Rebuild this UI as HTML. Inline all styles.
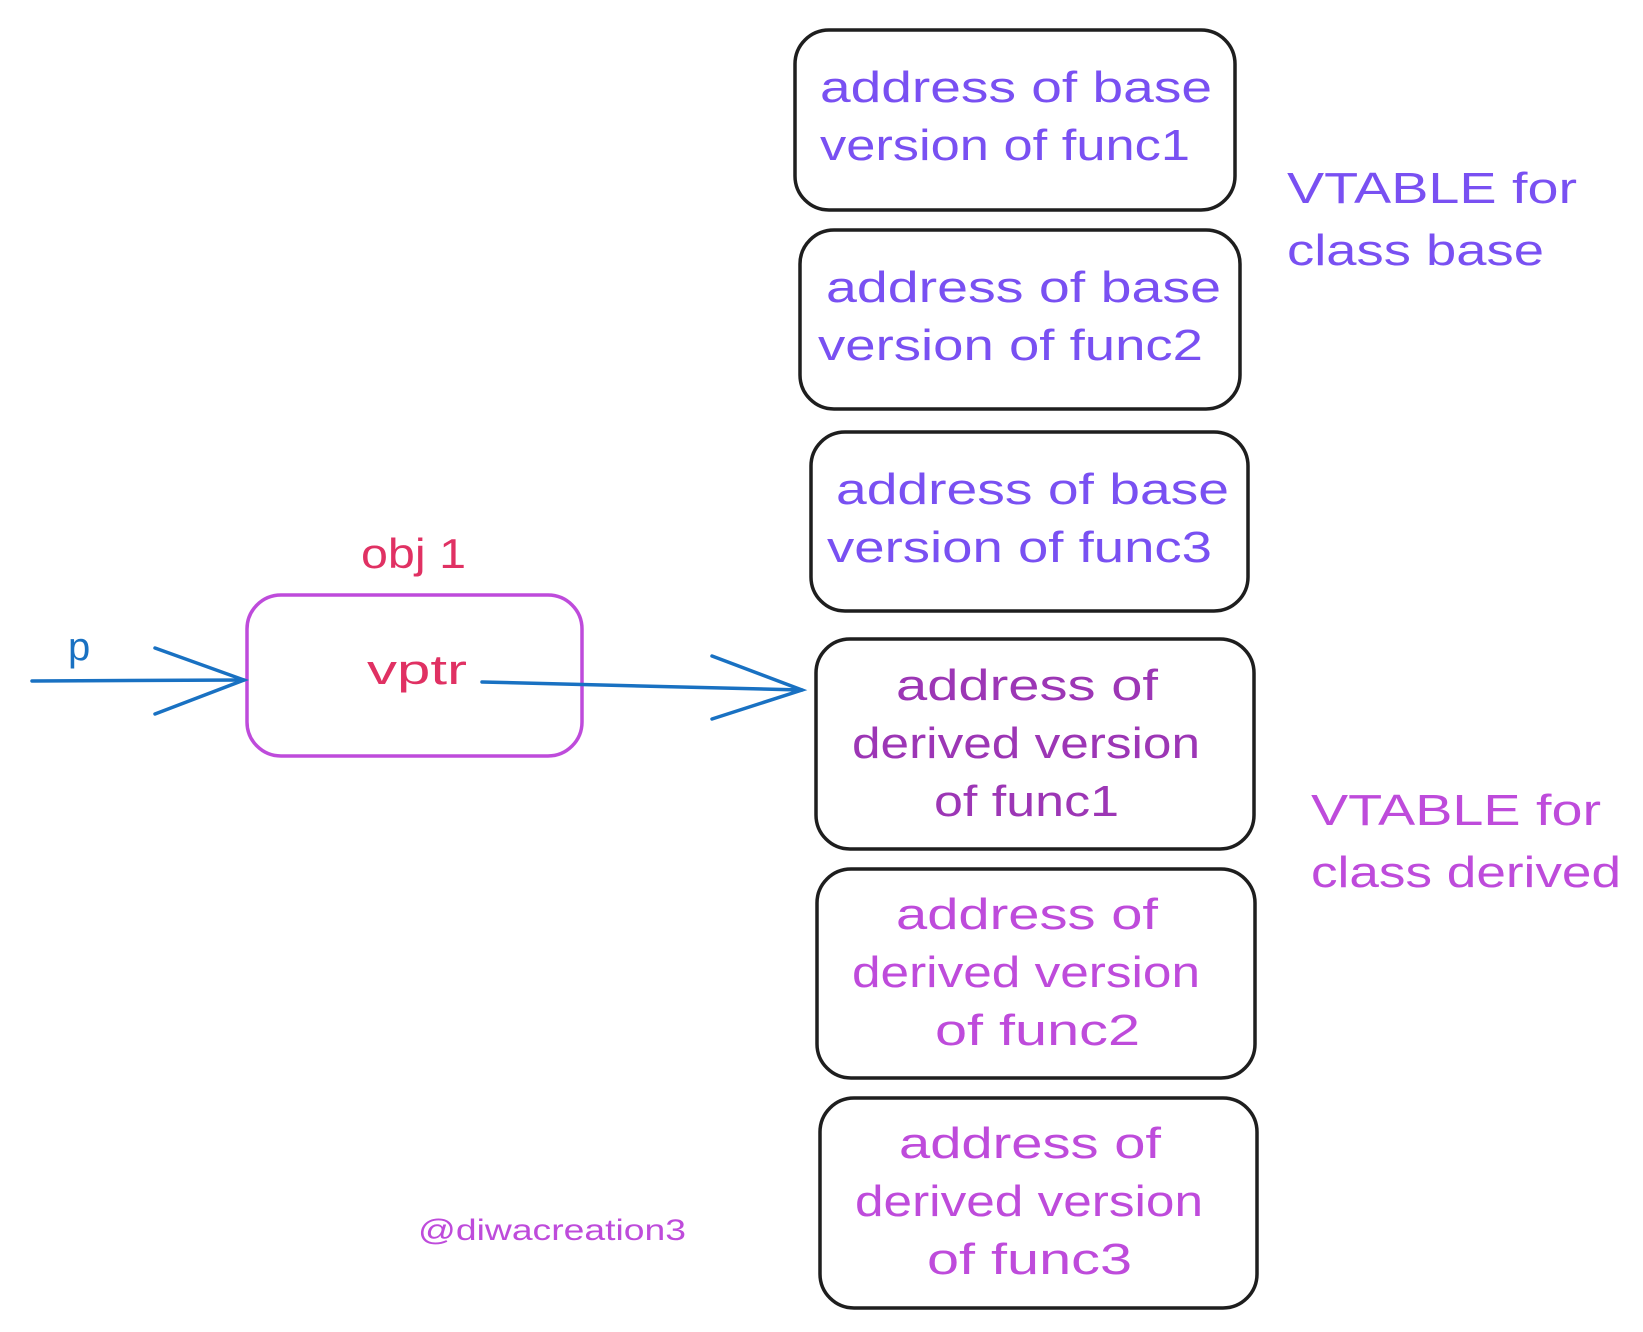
<!DOCTYPE html>
<html><head><meta charset="utf-8"><style>html,body{margin:0;padding:0;background:#fff}svg{display:block}</style></head>
<body>
<svg width="1643" height="1332" viewBox="0 0 1643 1332" xmlns="http://www.w3.org/2000/svg" font-family="Liberation Sans, sans-serif">
<g fill="none" stroke="#1e1e1e" stroke-width="3.5">
<rect x="795" y="30" width="440" height="180" rx="34"/>
<rect x="800" y="230" width="440" height="179" rx="34"/>
<rect x="811" y="432" width="437" height="179" rx="34"/>
<rect x="816" y="639" width="438" height="210" rx="34"/>
<rect x="817" y="869" width="438" height="209" rx="34"/>
<rect x="820" y="1098" width="437" height="210" rx="34"/>
</g>
<rect x="247" y="595" width="335" height="161" rx="34" fill="none" stroke="#be4bdb" stroke-width="3.5"/>
<g fill="none" stroke="#1971c2" stroke-width="3.5" stroke-linecap="round">
<path d="M32 681 L244 680"/>
<path d="M155 648 L244 680 L155 714"/>
<path d="M482 682 L802 690"/>
<path d="M712 656 L802 690 L712 719"/>
</g>
<g font-size="44" fill="#7950f2">
<text x="820" y="102" textLength="392" lengthAdjust="spacingAndGlyphs">address of base</text>
<text x="820" y="160" textLength="370" lengthAdjust="spacingAndGlyphs">version of func1</text>
<text x="826" y="302" textLength="395" lengthAdjust="spacingAndGlyphs">address of base</text>
<text x="818" y="360" textLength="385" lengthAdjust="spacingAndGlyphs">version of func2</text>
<text x="836" y="504" textLength="393" lengthAdjust="spacingAndGlyphs">address of base</text>
<text x="827" y="562" textLength="385" lengthAdjust="spacingAndGlyphs">version of func3</text>
<text x="1287" y="203" textLength="290" lengthAdjust="spacingAndGlyphs">VTABLE for</text>
<text x="1287" y="265" textLength="257" lengthAdjust="spacingAndGlyphs">class base</text>
</g>
<g font-size="44" fill="#9c36b5">
<text x="896" y="700" textLength="262" lengthAdjust="spacingAndGlyphs">address of</text>
<text x="852" y="758" textLength="348" lengthAdjust="spacingAndGlyphs">derived version</text>
<text x="934" y="816" textLength="185" lengthAdjust="spacingAndGlyphs">of func1</text>
</g>
<g font-size="44" fill="#be4bdb">
<text x="896" y="929" textLength="262" lengthAdjust="spacingAndGlyphs">address of</text>
<text x="852" y="987" textLength="348" lengthAdjust="spacingAndGlyphs">derived version</text>
<text x="935" y="1045" textLength="205" lengthAdjust="spacingAndGlyphs">of func2</text>
<text x="899" y="1158" textLength="262" lengthAdjust="spacingAndGlyphs">address of</text>
<text x="855" y="1216" textLength="348" lengthAdjust="spacingAndGlyphs">derived version</text>
<text x="927" y="1274" textLength="205" lengthAdjust="spacingAndGlyphs">of func3</text>
<text x="1311" y="825" textLength="290" lengthAdjust="spacingAndGlyphs">VTABLE for</text>
<text x="1311" y="887" textLength="310" lengthAdjust="spacingAndGlyphs">class derived</text>
<text x="418" y="1240" font-size="30" textLength="268" lengthAdjust="spacingAndGlyphs">@diwacreation3</text>
</g>
<g font-size="42" fill="#e03163">
<text x="361" y="568" textLength="105" lengthAdjust="spacingAndGlyphs">obj 1</text>
<text x="367" y="684" textLength="100" lengthAdjust="spacingAndGlyphs">vptr</text>
</g>
<text x="68" y="660" font-size="40" fill="#1971c2">p</text>
</svg>
</body></html>
